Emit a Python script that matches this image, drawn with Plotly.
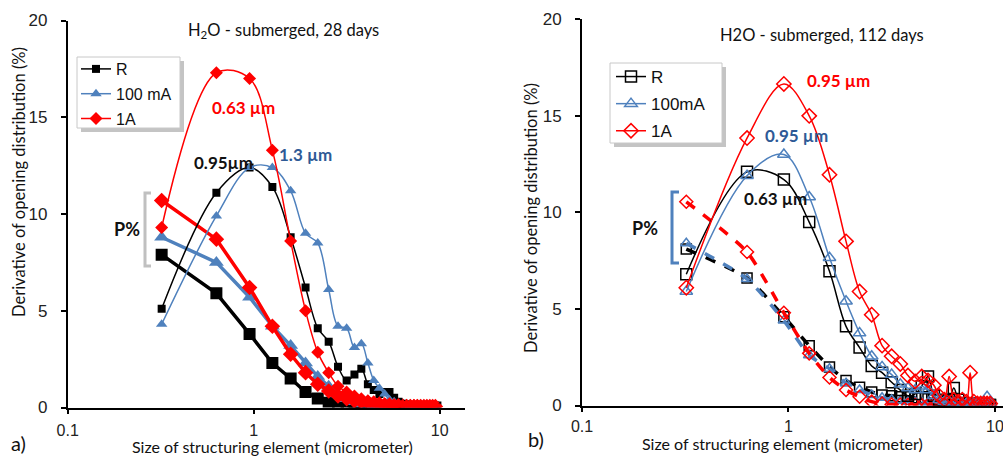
import plotly.graph_objects as go

W, H = 1003, 457

# ---------------- data ----------------
sizes = [0.32, 0.63, 0.95, 1.26, 1.58, 1.90, 2.21, 2.53, 2.84, 3.16,
         3.48, 3.79, 4.11, 4.42, 4.74, 5.06, 5.37, 5.69, 6.00, 6.32,
         6.64, 6.95, 7.27, 7.58, 7.90, 8.22, 8.53, 8.85, 9.16, 9.48]

series_names_a = ["R", "100 mA", "1A"]
series_names_b = ["R", "100mA", "1A"]

# panel a) 28 days - distribution peaks
a_R = [5.1, 11.1, 12.4, 11.4, 8.8, 6.2, 4.1, 3.4, 2.1, 1.4,
       1.7, 2.0, 1.2, 0.9, 0.7, 0.8, 0.8, 0.5, 0.3, 0.2,
       0.15, 0.1, 0.1, 0.05, 0.05, 0.05, 0.05, 0.02, 0.02, 0.02]
a_100 = [4.3, 9.9, 12.4, 12.4, 11.2, 9.0, 8.5, 6.1, 4.2, 4.1,
         3.1, 3.3, 2.3, 1.4, 1.0, 0.7, 0.4, 0.3, 0.2, 0.15,
         0.1, 0.1, 0.05, 0.05, 0.05, 0.02, 0.02, 0.02, 0.02, 0.02]
a_1A = [9.3, 17.3, 17.0, 13.3, 8.6, 5.0, 2.85, 1.8, 1.1, 0.8,
        0.6, 0.45, 0.35, 0.3, 0.25, 0.2, 0.2, 0.15, 0.15, 0.1,
        0.1, 0.1, 0.1, 0.1, 0.05, 0.05, 0.05, 0.05, 0.05, 0.05]
# panel a) P% (decreasing) curves
a_R_p = [7.9, 5.9, 3.8, 2.3, 1.5, 0.8, 0.47, 0.25, 0.15, 0.1,
         0.05, 0.03, 0.02, 0.01, 0.01, 0.01, 0.0, 0.0, 0.0, 0.0,
         0.0, 0.0, 0.0, 0.0, 0.0, 0.0, 0.0, 0.0, 0.0, 0.0]
a_100_p = [8.8, 7.5, 5.7, 4.2, 3.2, 2.3, 1.6, 1.1, 0.7, 0.45,
           0.3, 0.2, 0.15, 0.1, 0.08, 0.05, 0.04, 0.03, 0.02, 0.02,
           0.02, 0.01, 0.01, 0.01, 0.01, 0.01, 0.01, 0.01, 0.01, 0.01]
a_1A_p = [10.7, 8.7, 6.2, 4.2, 2.75, 1.8, 1.2, 0.85, 0.6, 0.45,
          0.35, 0.3, 0.25, 0.2, 0.15, 0.12, 0.1, 0.1, 0.08, 0.08,
          0.05, 0.05, 0.05, 0.05, 0.05, 0.05, 0.05, 0.05, 0.05, 0.05]

# panel b) 112 days - distribution peaks
b_R = [6.8, 12.1, 11.7, 9.5, 6.95, 4.1, 3.0, 2.05, 1.7, 1.2,
       0.8, 0.5, 0.6, 1.0, 1.5, 0.5, 0.3, 0.2, 0.3, 0.9,
       0.3, 0.1, 0.1, 0.05, 0.1, 0.05, 0.02, 0.02, 0.02, 0.02]
b_100 = [5.9, 11.9, 13.0, 10.8, 7.65, 5.4, 3.75, 2.55, 2.0, 1.6,
         1.1, 0.9, 0.8, 1.0, 0.8, 0.5, 0.3, 0.2, 0.2, 0.15,
         0.1, 0.1, 0.1, 0.1, 0.1, 0.1, 0.1, 0.1, 0.45, 0.1]
b_1A = [6.1, 13.85, 16.65, 15.0, 11.95, 8.5, 5.9, 4.7, 3.1, 2.55,
        2.15, 1.55, 1.25, 1.5, 1.3, 1.05, 0.5, 0.3, 1.5, 0.3,
        0.2, 0.3, 0.2, 1.7, 0.2, 0.1, 0.1, 0.1, 0.1, 0.1]
# panel b) P% (decreasing) curves
b_R_p = [8.1, 6.6, 4.6, 3.1, 2.0, 1.3, 0.95, 0.7, 0.55, 0.5,
         0.45, 0.45, 0.4, 0.4, 0.35, 0.3, 0.3, 0.25, 0.2, 0.2,
         0.15, 0.1, 0.1, 0.1, 0.1, 0.1, 0.05, 0.05, 0.05, 0.05]
b_100_p = [8.4, 6.55, 4.4, 2.6, 1.9, 1.15, 0.8, 0.55, 0.4, 0.3,
           0.25, 0.2, 0.2, 0.15, 0.15, 0.1, 0.1, 0.1, 0.1, 0.1,
           0.05, 0.05, 0.05, 0.05, 0.05, 0.05, 0.05, 0.05, 0.05, 0.05]
b_1A_p = [10.55, 7.95, 4.8, 2.7, 1.45, 0.8, 0.45, 0.2, 0.1, 0.05,
          0.05, 0.03, 0.03, 0.02, 0.02, 0.02, 0.02, 0.02, 0.02, 0.02,
          0.02, 0.02, 0.02, 0.02, 0.02, 0.02, 0.02, 0.02, 0.02, 0.02]

y_ticks = [0, 5, 10, 15, 20]
x_ticks = [0.1, 1, 10]
x_tick_labels = ["0.1", "1", "10"]

# ---------------- styling helpers ----------------
BLACK = "#000000"
BLUE = "#4F81BD"
RED = "#FF0000"
DARKBLUE = "#2E5A96"
CAL = "Lato, 'Open Sans', sans-serif"
ARIAL = "'Liberation Sans', Arial, sans-serif"


def px(x):
    return x / W


def py(y):
    return 1 - y / H


fig = go.Figure()

colors = [BLACK, BLUE, RED]
filled_syms = ["square", "triangle-up", "diamond"]
open_syms = ["square-open", "triangle-up-open", "diamond-open"]
small_sizes = [8, 10, 10]
big_sizes = [12, 13, 12]

# panel a traces: P% curves (thick) first
for ys, c, s, ms in zip([a_R_p, a_100_p, a_1A_p], colors, filled_syms, big_sizes):
    fig.add_trace(go.Scatter(x=sizes, y=ys, mode="lines+markers",
                             line=dict(color=c, width=3.5),
                             marker=dict(symbol=s, size=ms, color=c),
                             showlegend=False, xaxis="x", yaxis="y"))
for ys, c, s, ms, nm in zip([a_R, a_100, a_1A], colors, filled_syms, small_sizes, series_names_a):
    fig.add_trace(go.Scatter(x=sizes, y=ys, mode="lines+markers", name=nm,
                             line=dict(color=c, width=1.5, shape="spline", smoothing=1.0),
                             marker=dict(symbol=s, size=ms, color=c),
                             legend="legend", legendgroup="a" + nm,
                             xaxis="x", yaxis="y"))

# panel b traces
for ys, c, s in zip([b_R_p, b_100_p, b_1A_p], colors, open_syms):
    fig.add_trace(go.Scatter(x=sizes, y=ys, mode="lines+markers",
                             line=dict(color=c, width=3.5, dash="dash", shape="spline", smoothing=0.6),
                             marker=dict(symbol=s, size=10, color=c, line=dict(width=1.5, color=c)),
                             showlegend=False, xaxis="x2", yaxis="y2"))
for ys, c, s, nm in zip([b_R, b_100, b_1A], colors, open_syms, series_names_b):
    fig.add_trace(go.Scatter(x=sizes, y=ys, mode="lines+markers", name=nm,
                             line=dict(color=c, width=1.5, shape="spline", smoothing=1.0),
                             marker=dict(symbol=s, size=11, color=c, line=dict(width=1.5, color=c)),
                             legend="legend2", legendgroup="b" + nm,
                             xaxis="x2", yaxis="y2"))

axis_common = dict(showline=True, linecolor="#000", linewidth=1.8, ticks="outside",
                   tickcolor="#000", ticklen=5, tickwidth=1.5, showgrid=False,
                   zeroline=False, automargin=False, ticklabeloverflow="allow")
tick_font = dict(family=ARIAL, size=17, color="#222")
xtick_font = dict(family=ARIAL, size=16, color="#222")

fig.update_layout(
    width=W, height=H,
    margin=dict(l=0, r=0, t=0, b=0, autoexpand=False),
    paper_bgcolor="white", plot_bgcolor="white",
    xaxis=dict(domain=[px(67.7), px(465)], type="log", range=[-1, 1.136],
               tickvals=x_ticks, ticktext=x_tick_labels, anchor="y",
               ticklabelstandoff=2, tickfont=xtick_font, **axis_common),
    yaxis=dict(domain=[py(407.5), py(20.5)], range=[0, 20], tickvals=y_ticks,
               anchor="x", ticklabelstandoff=10, tickfont=tick_font, **axis_common),
    xaxis2=dict(domain=[px(582), 1.0], type="log", range=[-1, 1.039],
                tickvals=x_ticks, ticktext=x_tick_labels, anchor="y2",
                ticklabelstandoff=0, tickfont=xtick_font, **axis_common),
    yaxis2=dict(domain=[py(405.5), py(19.3)], range=[0, 20], tickvals=y_ticks,
                anchor="x2", ticklabelstandoff=10, tickfont=tick_font, **axis_common),
    legend=dict(x=px(76), y=py(52), xanchor="left", yanchor="top",
                bgcolor="rgba(0,0,0,0)", borderwidth=0,
                font=dict(family=ARIAL, size=16, color="#111"),
                itemwidth=30, traceorder="grouped", tracegroupgap=1),
    legend2=dict(x=px(611), y=py(59), xanchor="left", yanchor="top",
                 bgcolor="rgba(0,0,0,0)", borderwidth=0,
                 font=dict(family=ARIAL, size=17, color="#111"),
                 itemwidth=30, traceorder="grouped", tracegroupgap=2),
)

# legend boxes with shadows
def legend_box(x0, y0, x1, y1):
    fig.add_shape(type="rect", xref="paper", yref="paper", layer="above",
                  x0=px(x0 + 4), x1=px(x1 + 4), y0=py(y1 + 4), y1=py(y0 + 4),
                  fillcolor="#C4C4C4", line=dict(width=0))
    fig.add_shape(type="rect", xref="paper", yref="paper", layer="above",
                  x0=px(x0), x1=px(x1), y0=py(y1), y1=py(y0),
                  fillcolor="white", line=dict(color="#C8C8C8", width=1))

legend_box(77, 57, 180, 128)
legend_box(610, 63, 722, 143)

# P% brackets
def bracket(xl, xr, yt, yb, color):
    path = (f"M {px(xr)},{py(yt)} L {px(xl)},{py(yt)} "
            f"L {px(xl)},{py(yb)} L {px(xr)},{py(yb)}")
    fig.add_shape(type="path", xref="paper", yref="paper", path=path,
                  line=dict(color=color, width=3))

bracket(145, 151, 193, 266, "#C0C0C0")
bracket(672, 679, 192, 263, BLUE)


def ann(text, x, y, size, color="#111", family=CAL, bold=False, angle=0, xanchor="center"):
    if bold:
        text = f"<b>{text}</b>"
    fig.add_annotation(text=text, x=px(x), y=py(y), xref="paper", yref="paper",
                       showarrow=False, xanchor=xanchor, yanchor="middle",
                       textangle=angle, font=dict(family=family, size=size, color=color))

# titles
ann("H<sub>2</sub>O - submerged, 28 days", 283, 30, 16.5)
ann("H2O - submerged, 112 days", 822, 35, 16.5)
# axis titles
ann("Derivative of opening distribution (%)", 19, 182, 16.5, angle=-90)
ann("Derivative of opening distribution (%)", 531, 218, 16.5, angle=-90)
ann("Size of structuring element (micrometer)", 272, 446, 16)
ann("Size of structuring element (micrometer)", 782, 443, 16)
# panel letters
ann("a)", 18, 443, 20)
ann("b)", 536, 439, 20)
# peak labels
ann("0.63 µm", 243, 107, 17, color=RED, bold=True)
ann("1.3 µm", 305, 154, 17, color=DARKBLUE, bold=True)
ann("0.95µm", 223, 163, 17, color="#111", bold=True)
ann("0.95 µm", 838, 80, 17, color=RED, bold=True)
ann("0.95 µm", 796, 136, 17, color=DARKBLUE, bold=True)
ann("0.63 µm", 775, 198, 17, color="#111", bold=True)
ann("P%", 127, 229, 18, color="#111", bold=True)
ann("P%", 645, 228, 18, color="#111", bold=True)

fig.write_html("out.html")
